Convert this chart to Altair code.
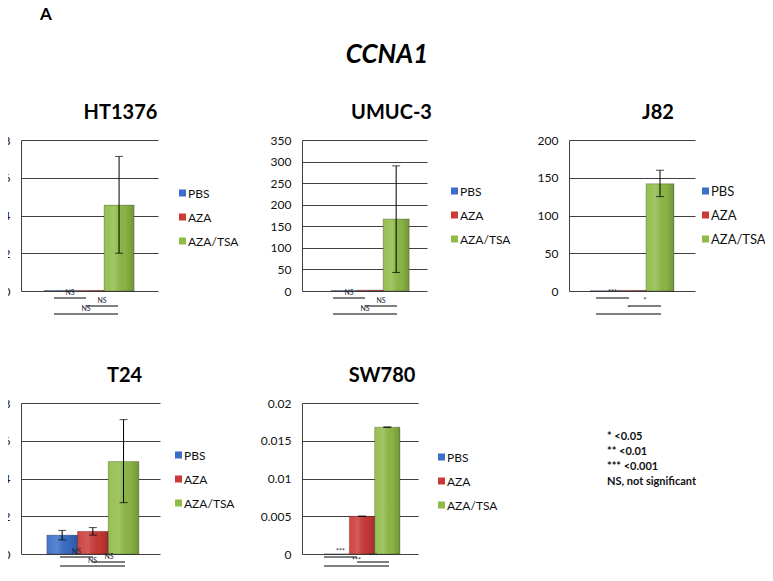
import altair as alt
import pandas as pd

# ---------------- data ----------------
treatments = ["PBS", "AZA", "AZA/TSA"]
bar_colors = ["#3A6EC8", "#CC3A37", "#8FBB47"]

figure_label = "A"
gene_name = "CCNA1"

cell_lines = ["HT1376", "UMUC-3", "J82", "T24", "SW780"]

ht1376_mean = [0.02, 0.03, 4.55]
ht1376_low = [None, None, 2.0]
ht1376_high = [None, None, 7.13]
ht1376_sig = ["NS", "NS", "NS"]
ht1376_ticks = [0, 2, 4, 6, 8]

umuc3_mean = [1.0, 2.0, 167]
umuc3_low = [None, None, 43]
umuc3_high = [None, None, 290]
umuc3_sig = ["NS", "NS", "NS"]
umuc3_ticks = [0, 50, 100, 150, 200, 250, 300, 350]

j82_mean = [0.3, 0.8, 142]
j82_low = [None, None, 125]
j82_high = [None, None, 160]
j82_sig = ["***", "*", "*"]
j82_ticks = [0, 50, 100, 150, 200]

t24_mean = [1.0, 1.2, 4.9]
t24_low = [0.75, 1.0, 2.72]
t24_high = [1.25, 1.4, 7.12]
t24_sig = ["NS", "NS", "NS"]
t24_ticks = [0, 2, 4, 6, 8]

sw780_mean = [0.0, 0.005, 0.0168]
sw780_low = [None, 0.00497, 0.01677]
sw780_high = [None, 0.00503, 0.01683]
sw780_sig = ["***", "***", "***"]
sw780_ticks = [0, 0.005, 0.01, 0.015, 0.02]

# comparisons: PBS vs AZA, AZA vs AZA/TSA, PBS vs AZA/TSA
sig_pairs = [("PBS", "AZA"), ("AZA", "AZA/TSA"), ("PBS", "AZA/TSA")]

notes = ["* <0.05", "** <0.01", "*** <0.001", "NS, not significant"]

# ---------------- layout / style ----------------
FONT = "Lato"
H = 151
ROW1_SIG = (7, 15, 23)
ROW2_SIG = (3, 8, 12)
layout = {
    "HT1376": dict(w=137, pad=0.78, align=0.49, title_dx=31, leg_x=158, leg_y=53,
                   leg_font=12, ends=(33, 65, 97), sig_y=ROW1_SIG, fmt=None),
    "UMUC-3": dict(w=125, pad=0.90, align=0.62, title_dx=27, leg_x=149, leg_y=51,
                   leg_font=12, ends=(31, 63, 95), sig_y=ROW1_SIG, fmt=None),
    "J82": dict(w=126, pad=0.75, align=0.5, title_dx=26, leg_x=133, leg_y=51,
                leg_font=13, ends=(27, 60, 92), sig_y=ROW1_SIG, fmt=None),
    "T24": dict(w=139, pad=0.765, align=0.55, title_dx=34, leg_x=154, leg_y=52,
                leg_font=12, ends=(39, 72, 104), sig_y=ROW2_SIG, fmt=None),
    "SW780": dict(w=116, pad=0.79, align=0.55, title_dx=22, leg_x=136, leg_y=54,
                  leg_font=12, ends=(22, 55, 87), sig_y=ROW2_SIG, fmt=".3~f"),
}
LEG_STEP = 24

shade = alt.Gradient(
    gradient="linear",
    stops=[
        alt.GradientStop(color="rgba(255,255,255,0.06)", offset=0),
        alt.GradientStop(color="rgba(255,255,255,0.16)", offset=0.35),
        alt.GradientStop(color="rgba(0,0,0,0.04)", offset=0.7),
        alt.GradientStop(color="rgba(0,0,0,0.20)", offset=1),
    ],
    x1=0, x2=1, y1=0, y2=0,
)
color_scale = alt.Scale(domain=treatments, range=bar_colors)


def panel(name, mean, low, high, sig, ticks):
    L = layout[name]
    w, h, p, al = L["w"], H, L["pad"], L["align"]
    step = w / (3 + 2 * p)
    start = al * 2 * p * step
    centers = {t: start + step * (i + 0.5) for i, t in enumerate(treatments)}

    df = pd.DataFrame({"treatment": treatments, "value": mean, "low": low, "high": high})
    xs = alt.Scale(domain=treatments, paddingInner=0, paddingOuter=p, align=al)
    ys = alt.Scale(domain=[ticks[0], ticks[-1]], nice=False, zero=True)
    X = alt.X("treatment:N", scale=xs, axis=None)

    axis_kw = dict(values=ticks, grid=True, ticks=False, gridColor="#404040", gridWidth=1,
                   domainColor="#404040", labelPadding=11, labelFontSize=12, labelFont=FONT,
                   labelColor="#111", labelOverlap=False, title=None)
    if L["fmt"]:
        axis_kw["format"] = L["fmt"]
    yaxis = alt.Axis(**axis_kw)

    def Y(field):
        return alt.Y(field, type="quantitative", scale=ys, axis=yaxis, title=None)

    bars = alt.Chart(df).mark_bar().encode(
        x=X, y=Y("value"),
        color=alt.Color("treatment:N", scale=color_scale, legend=None),
    )
    overlay = alt.Chart(df).mark_bar(fill=shade, stroke="rgba(0,0,0,0.28)", strokeWidth=0.8).encode(
        x=X, y=Y("value")
    )
    err_df = df.dropna(subset=["low"])
    err = alt.Chart(err_df).mark_rule(color="black", strokeWidth=1).encode(
        x=X, y=Y("low"), y2="high:Q")
    cap_lo = alt.Chart(err_df).mark_tick(color="black", size=8, thickness=1).encode(
        x=X, y=Y("low"))
    cap_hi = alt.Chart(err_df).mark_tick(color="black", size=8, thickness=1).encode(
        x=X, y=Y("high"))

    layers = [bars, overlay, err, cap_lo, cap_hi]

    # significance brackets below the axis
    a, b, c = L["ends"]
    segs = [(a, b), (b, c), (a, c)]
    for k, ((f, t), label, (s, e)) in enumerate(zip(sig_pairs, sig, segs)):
        sdf = pd.DataFrame({"from": [f], "to": [t], "label": [label]})
        XF = alt.X("from:N", scale=xs, axis=None)
        dy = L["sig_y"][k]
        rule = alt.Chart(sdf).mark_rule(color="black", strokeWidth=1,
                                        xOffset=s - centers[f], x2Offset=e - centers[t]).encode(
            x=XF, x2="to:N", y=alt.value(h + dy))
        txt = alt.Chart(sdf).mark_text(fontSize=7, font=FONT, color="#1d2438", baseline="middle",
                                       xOffset=(s + e) / 2 - centers[f]).encode(
            x=XF, y=alt.value(h + dy - 5), text="label:N")
        layers += [rule, txt]

    # legend entries (one per treatment)
    for i, t in enumerate(treatments):
        ldf = pd.DataFrame({"treatment": [t]})
        yy = L["leg_y"] + LEG_STEP * i
        sq = alt.Chart(ldf).mark_square(size=49, opacity=1, strokeWidth=0).encode(
            x=alt.value(L["leg_x"] + 3.5), y=alt.value(yy),
            color=alt.Color("treatment:N", scale=color_scale, legend=None))
        lt = alt.Chart(ldf).mark_text(align="left", baseline="middle", fontSize=L["leg_font"],
                                      font=FONT, color="#111").encode(
            x=alt.value(L["leg_x"] + 9), y=alt.value(yy + 0.5), text="treatment:N")
        layers += [sq, lt]

    return alt.layer(*layers).properties(
        width=w, height=h,
        title=alt.TitleParams(name, dx=L["title_dx"], offset=11, fontSize=20, font=FONT,
                              fontWeight="bold", color="#000", anchor="middle"),
    )


p1 = panel(cell_lines[0], ht1376_mean, ht1376_low, ht1376_high, ht1376_sig, ht1376_ticks)
p2 = panel(cell_lines[1], umuc3_mean, umuc3_low, umuc3_high, umuc3_sig, umuc3_ticks)
p3 = panel(cell_lines[2], j82_mean, j82_low, j82_high, j82_sig, j82_ticks)
p4 = panel(cell_lines[3], t24_mean, t24_low, t24_high, t24_sig, t24_ticks)
p5 = panel(cell_lines[4], sw780_mean, sw780_low, sw780_high, sw780_sig, sw780_ticks)

# significance key + figure label / gene name (positioned relative to this last cell)
notes_df = pd.DataFrame({"note": notes, "k": list(range(len(notes)))})
header_df = pd.DataFrame({"label": [figure_label], "gene": [gene_name]})
p6 = alt.layer(
    alt.Chart(notes_df).mark_text(align="left", baseline="middle", fontSize=11, font=FONT,
                                  fontWeight="bold", color="#111").encode(
        x=alt.value(38),
        y=alt.Y("k:O", axis=None, scale=alt.Scale(type="point", range=[34, 79], padding=0)),
        text="note:N",
    ),
    alt.Chart(header_df).mark_text(fontSize=17, font=FONT, fontWeight="bold", color="#000",
                                   baseline="alphabetic", align="center").encode(
        x=alt.value(-523), y=alt.value(-383), text="label:N"),
    alt.Chart(header_df).mark_text(fontSize=26, font=FONT, fontWeight="bold", fontStyle="italic",
                                   color="#000", baseline="alphabetic", align="center").encode(
        x=alt.value(-182), y=alt.value(-340), text="gene:N"),
).properties(width=150, height=H)

chart = alt.concat(
    p1, p2, p3, p4, p5, p6, columns=3, bounds="flush",
    spacing={"row": 112, "column": 142},
).resolve_scale(
    x="independent", y="independent", color="independent"
).properties(
    padding={"left": -5, "top": -2, "right": -1, "bottom": 0}
).configure(font=FONT).configure_view(stroke=None)

chart.save("out.html", embed_options={"renderer": "svg", "actions": False})
